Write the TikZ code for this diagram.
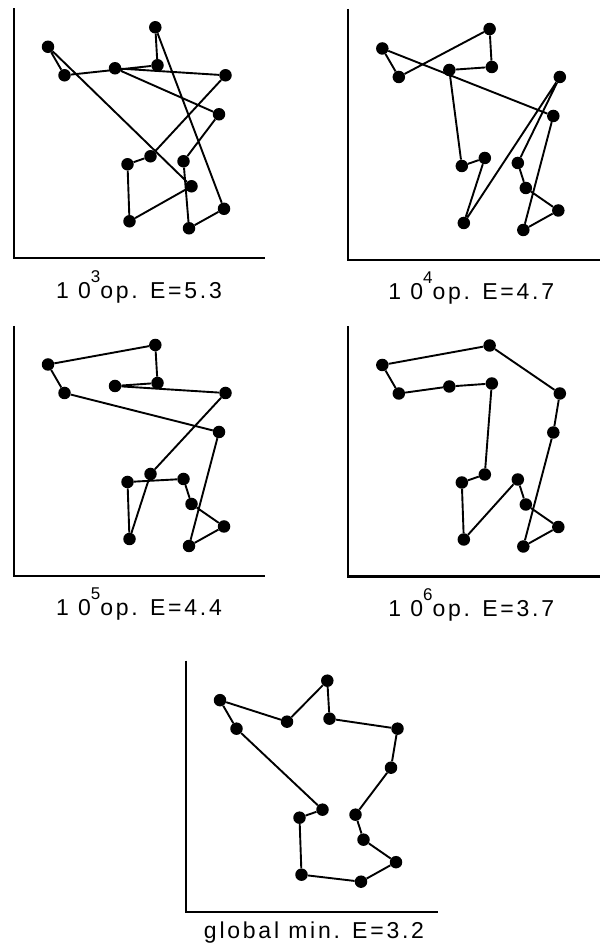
\documentclass[tikz,border=0pt]{standalone}
\usepackage{fontspec}
\setmainfont{Liberation Sans}
\newfontfamily\labelfont[LetterSpace=12]{Liberation Sans}
\newcommand{\nops}[1]{1 0\raisebox{16pt}{\fontsize{17}{17}\selectfont #1}op.}

\begin{document}
\begin{tikzpicture}[x=1pt,y=1pt,
    city/.style={circle,fill=black,inner sep=0pt,minimum size=12.5pt},
    leg/.style={line width=1.9pt,line join=round},
    axis/.style={line width=2.3pt},
    lbl/.style={anchor=base,font=\labelfont\fontsize{23}{26}\selectfont}]
    \useasboundingbox (0,0) rectangle (604,944);
    % city positions, relative to the corner of each frame
    \def\cities{A/34/211.5,B/50.5/183,C/101/190,D/141.3/231,E/143.5/193,
      F/211.5/183,G/205/144,H/136.5/102,I/113.5/94,J/169.5/97,
      K/177.5/72,L/115.5/37,M/175/30,N/210/49.5}
    % 10^3 operations
    \begin{scope}[shift={(14,685.7)}]
      \draw[axis] (0,250) -- (0,0) -- (251,0);
      \foreach \n/\x/\y in \cities \node[city] (p1\n) at (\x,\y) {};
      \draw[leg] (p1A)--(p1B)--(p1E)--(p1D)--(p1N)--(p1M)--(p1J)--(p1G)--(p1C)
        --(p1F)--(p1H)--(p1I)--(p1L)--(p1K)--(p1A);
      \node[lbl] (lab1) at (125,-40) {\nops{3} E=5.3};
    \end{scope}
    % 10^4 operations
    \begin{scope}[shift={(348.3,684)}]
      \draw[axis] (0,251) -- (0,0) -- (252,0);
      \foreach \n/\x/\y in \cities \node[city] (p2\n) at (\x,\y) {};
      \draw[leg] (p2A)--(p2B)--(p2D)--(p2E)--(p2C)--(p2I)--(p2H)--(p2L)--(p2F)
        --(p2J)--(p2K)--(p2N)--(p2M)--(p2G)--(p2A);
      \node[lbl] (lab2) at (123,-40) {\nops{4} E=4.7};
    \end{scope}
    % 10^5 operations
    \begin{scope}[shift={(14,368)}]
      \draw[axis] (0,250) -- (0,0) -- (251,0);
      \foreach \n/\x/\y in \cities \node[city] (p3\n) at (\x,\y) {};
      \draw[leg] (p3A)--(p3D)--(p3E)--(p3C)--(p3F)--(p3H)--(p3L)--(p3I)--(p3J)
        --(p3K)--(p3N)--(p3M)--(p3G)--(p3B)--(p3A);
      \node[lbl] (lab3) at (125,-40) {\nops{5} E=4.4};
    \end{scope}
    % 10^6 operations
    \begin{scope}[shift={(348.3,367.5)}]
      \draw[axis] (0,250) -- (0,0) -- (252,0);
      \foreach \n/\x/\y in \cities \node[city] (p4\n) at (\x,\y) {};
      \draw[leg] (p4A)--(p4D)--(p4F)--(p4G)--(p4M)--(p4N)--(p4K)--(p4J)--(p4L)
        --(p4I)--(p4H)--(p4E)--(p4C)--(p4B)--(p4A);
      \node[lbl] (lab4) at (123,-40) {\nops{6} E=3.7};
    \end{scope}
    % global minimum
    \begin{scope}[shift={(186,32.3)}]
      \draw[axis] (0,251) -- (0,0) -- (252,0);
      \foreach \n/\x/\y in \cities \node[city] (p5\n) at (\x,\y) {};
      \draw[leg] (p5A)--(p5C)--(p5D)--(p5E)--(p5F)--(p5G)--(p5J)--(p5K)--(p5N)
        --(p5M)--(p5L)--(p5I)--(p5H)--(p5B)--(p5A);
      \node[lbl] (lab5) at (128,-26.5) {global min. E=3.2};
    \end{scope}
\end{tikzpicture}
\end{document}
